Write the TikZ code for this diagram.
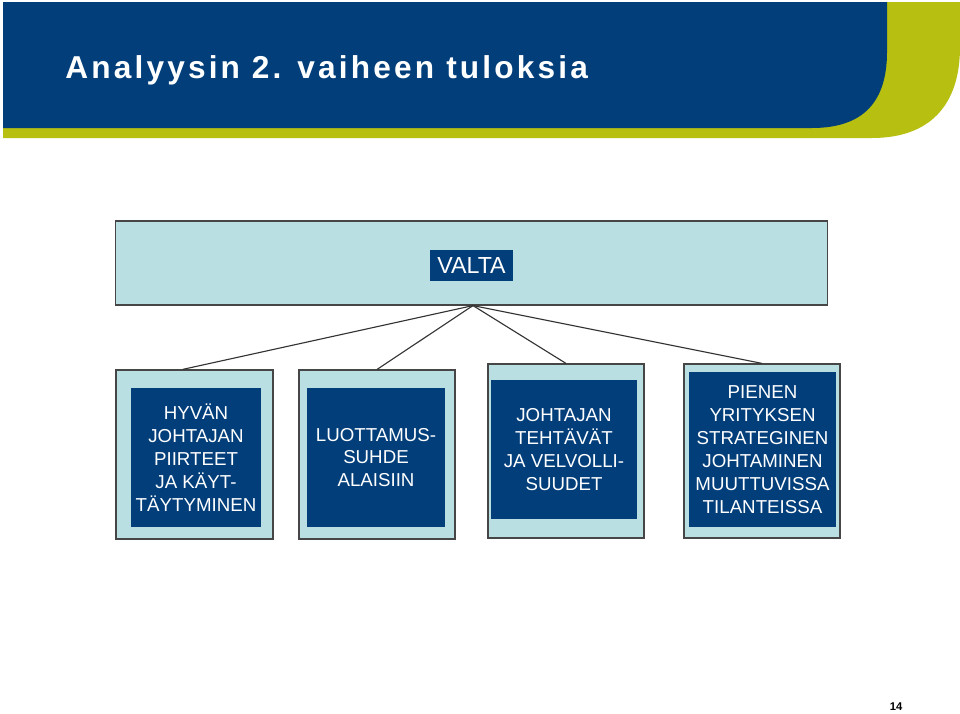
\documentclass[tikz,border=0pt]{standalone}
\usepackage{fontspec}
\setmainfont{Liberation Sans}
\setsansfont{Liberation Sans}
\definecolor{navy}{RGB}{2,62,122}
\definecolor{paleblue}{RGB}{186,223,227}
\definecolor{lime}{RGB}{183,191,16}
\definecolor{edgegray}{RGB}{70,70,70}
\begin{document}
\begin{tikzpicture}[
    x=0.025cm, y=-0.025cm,
    outerbox/.style={rectangle, draw=edgegray, line width=0.8pt, fill=paleblue, inner sep=0pt},
    innerbox/.style={rectangle, fill=navy, text=white, align=center, inner sep=0pt,
      font=\fontsize{13.3}{16.3}\selectfont},
    link/.style={draw=black!80, line width=0.8pt}
  ]
  \useasboundingbox (0,0) rectangle (960,713);

  % Header bands
  \fill[lime] (3,2) -- (960,2) -- (960,47)
    .. controls (960,105) and (930,138) .. (872,138) -- (3,138) -- cycle;
  \fill[navy] (3,2) -- (887,2) -- (887,52)
    .. controls (887,100) and (865,128) .. (812,128) -- (3,128) -- cycle;
  \node[anchor=base west, text=white, inner sep=0pt,
    font=\fontsize{22.5}{26}\selectfont\bfseries\addfontfeature{LetterSpace=10}]
    (title) at (65,78) {Analyysin 2. vaiheen tuloksia};

  % Top box
  \node[outerbox, minimum width=17.775cm, minimum height=2.1cm] (valta) at (471.5,263) {};
  \node[innerbox, minimum width=2.075cm, minimum height=0.775cm,
    font=\fontsize{16.5}{19}\selectfont] (valtalbl) at (471.5,265.5) {VALTA};

  % Lower boxes
  \node[outerbox, minimum width=3.925cm, minimum height=4.225cm] (b1) at (194.5,454.5) {};
  \node[outerbox, minimum width=3.9cm, minimum height=4.225cm] (b2) at (377,454.5) {};
  \node[outerbox, minimum width=3.9cm, minimum height=4.35cm] (b3) at (566,451) {};
  \node[outerbox, minimum width=3.9cm, minimum height=4.35cm] (b4) at (762,451) {};

  \node[innerbox, minimum width=3.25cm, minimum height=3.475cm] (t1) at (196,457.5)
    {HYVÄN\\JOHTAJAN\\PIIRTEET\\JA KÄYT-\\TÄYTYMINEN};
  \node[innerbox, minimum width=3.45cm, minimum height=3.475cm] (t2) at (376,457.5)
    {LUOTTAMUS-\\SUHDE\\ALAISIIN};
  \node[innerbox, minimum width=3.65cm, minimum height=3.475cm] (t3) at (564,449.5)
    {JOHTAJAN\\TEHTÄVÄT\\JA VELVOLLI-\\SUUDET};
  \node[innerbox, minimum width=3.675cm, minimum height=3.875cm] (t4) at (762.5,449.5)
    {PIENEN\\YRITYKSEN\\STRATEGINEN\\JOHTAMINEN\\MUUTTUVISSA\\TILANTEISSA};

  % Connectors
  \draw[link] (valta.272) -- (b1.98);
  \draw[link] (valta.272) -- (b2.north);
  \draw[link] (valta.272) -- (b3.north);
  \draw[link] (valta.272) -- (b4.north);

  % Page number
  \node[font=\fontsize{8}{10}\selectfont\bfseries, inner sep=0pt] (pagenum) at (896,707) {14};
\end{tikzpicture}
\end{document}
